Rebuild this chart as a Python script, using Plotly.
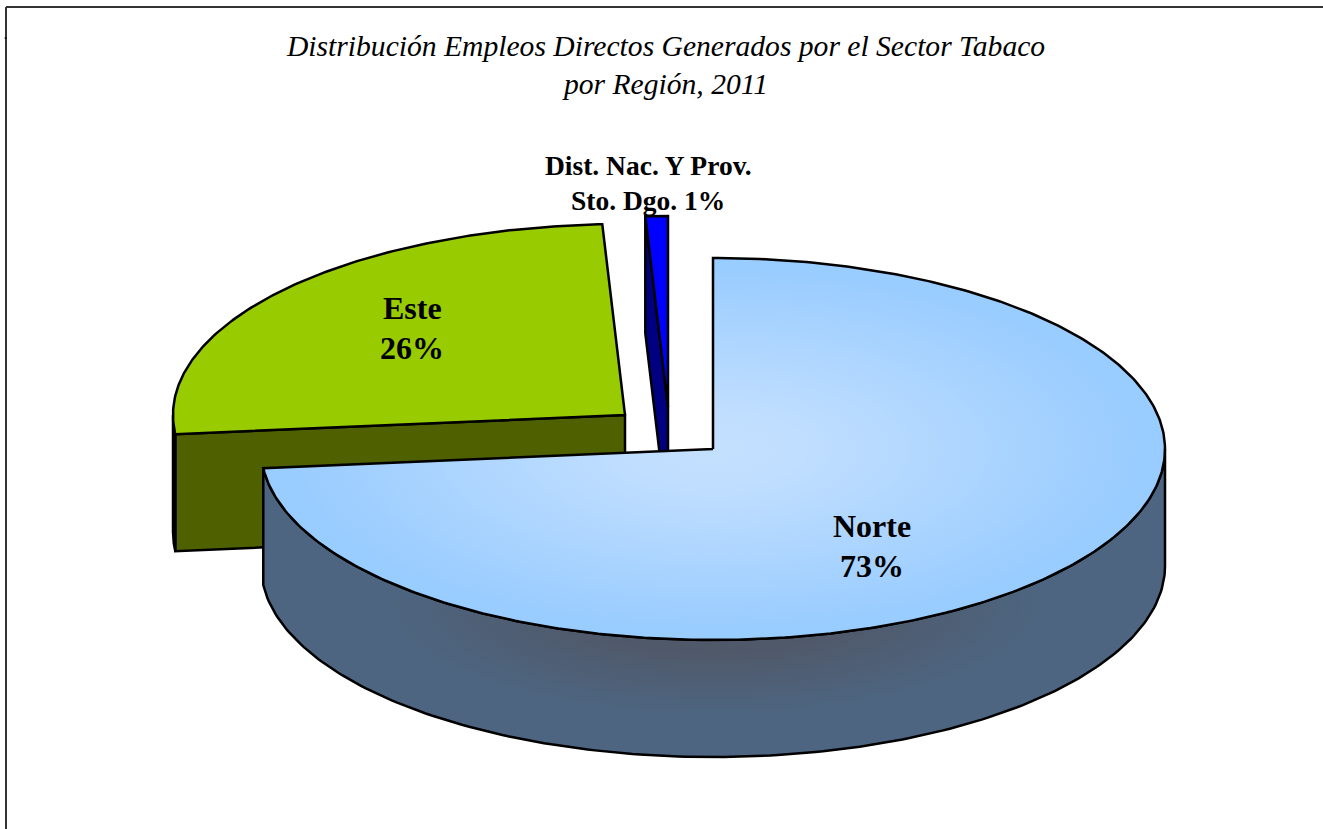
import numpy as np
import plotly.graph_objects as go

# Data
regions = ["Norte", "Este", "Dist. Nac. Y Prov.<br>Sto. Dgo."]
shares = [73.4, 25.8, 0.8]
title_text = "Distribución Empleos Directos Generados por el Sector Tabaco<br>por Región, 2011"

# Projection of the tilted pie on the page (pixel axes)
RX, RY, DEPTH = 452, 191, 117
apexes = [(713, 449), (625, 415), (668, 407)]
top_colors = [None, "#99cc00", "#0000ff"]
wall_colors = [None, "#4f6000", "#000080"]
label_pos = [(872, 526), (412, 308), (648, 165)]
label_size = [32, 32, 27.5]
label_pitch = [40, 40, 35]
EDGE = 2.5


def rim(c, a0, a1, dy=0, n=180):
    t = np.radians(np.linspace(a0, a1, n))
    return c[0] + RX * np.sin(t), c[1] - RY * np.cos(t) + dy


def poly(xs, ys, **kw):
    return go.Scatter(x=xs, y=ys, mode="lines", fill="toself", hoverinfo="skip",
                      showlegend=False, line=dict(color="black", width=EDGE, shape="linear"), **kw)


edges = np.concatenate([[0], np.cumsum(shares)]) * 3.6
a_n, b_n = edges[0], edges[1]
a_e, b_e = edges[1], edges[2]
a_d, b_d = edges[2], edges[3]

fig = go.Figure()

# 1 % slice: cut face then top
c = apexes[2]
x0, y0 = rim(c, a_d, a_d, n=1)
fig.add_trace(poly([x0[0], c[0], c[0], x0[0], x0[0]],
                   [y0[0], c[1], c[1] + DEPTH, y0[0] + DEPTH, y0[0]], fillcolor=wall_colors[2]))
x, y = rim(c, a_d, b_d, n=20)
fig.add_trace(poly([c[0], *x, c[0]], [c[1], *y, c[1]], fillcolor=top_colors[2]))

# Este: cut face, outer wall, top
c = apexes[1]
x0, y0 = rim(c, a_e, a_e, n=1)
fig.add_trace(poly([x0[0], c[0], c[0], x0[0], x0[0]],
                   [y0[0], c[1], c[1] + DEPTH, y0[0] + DEPTH, y0[0]], fillcolor=wall_colors[1]))
x, y = rim(c, a_e, 270, n=20)
xb, yb = rim(c, 270, a_e, DEPTH, n=20)
fig.add_trace(poly([*x, *xb, x[0]], [*y, *yb, y[0]], fillcolor=wall_colors[1]))
x, y = rim(c, a_e, b_e)
fig.add_trace(poly([c[0], *x, c[0]], [c[1], *y, c[1]], fillcolor=top_colors[1]))

# Norte: outer wall then top (colorscale runs from the centre outwards)
c = apexes[0]
x, y = rim(c, 90, b_n)
xb, yb = rim(c, b_n, 90, DEPTH)
fig.add_trace(poly([*x, *xb, x[0]], [*y, *yb, y[0]],
                   fillgradient=dict(type="radial",
                                     colorscale=[[0, "#50596a"], [0.32, "#50596a"], [0.72, "#4d6580"], [1, "#4d6580"]])))
x, y = rim(c, a_n, b_n, n=400)
fig.add_trace(poly([c[0], *x, c[0]], [c[1], *y, c[1]],
                   fillgradient=dict(type="radial",
                                     colorscale=[[0, "#c4e0ff"], [0.2, "#c0deff"], [0.95, "#99ccff"], [1, "#99ccff"]])))

# Labels, one annotation per text line so the line pitch can follow the picture
for name, share, pos, size, pitch in zip(regions, shares, label_pos, label_size, label_pitch):
    sep = " " if "<br>" in name else "<br>"
    lines = f"{name}{sep}{round(share)}%".split("<br>")
    for i, line in enumerate(lines):
        fig.add_annotation(x=pos[0], y=pos[1] + i * pitch, xref="x", yref="y", showarrow=False,
                           text=f"<b>{line}</b>",
                           font=dict(family="Liberation Serif", size=size, color="black"))

for i, line in enumerate(title_text.split("<br>")):
    fig.add_annotation(x=665, y=46 + i * 38, xref="x", yref="y", showarrow=False,
                       text=f"<i>{line}</i>",
                       font=dict(family="Liberation Serif", size=29.6, color="black"))

# Frame
frame = dict(color="#333333", width=2)
fig.add_shape(type="line", x0=6, x1=1323, y0=7, y1=7, xref="x", yref="y", line=frame)
fig.add_shape(type="line", x0=6, x1=6, y0=7, y1=829, xref="x", yref="y", line=frame)
fig.add_shape(type="line", x0=4.5, x1=7, y0=38, y1=38, xref="x", yref="y", line=dict(color="black", width=1))

fig.update_layout(width=1323, height=829, margin=dict(l=0, r=0, t=0, b=0),
                  paper_bgcolor="white", plot_bgcolor="white", showlegend=False,
                  xaxis=dict(range=[0, 1323], visible=False, fixedrange=True),
                  yaxis=dict(range=[829, 0], visible=False, fixedrange=True))

fig.write_html("out.html", config={"displayModeBar": False},
               post_script="document.body.style.margin='0';document.body.style.overflow='hidden';")
